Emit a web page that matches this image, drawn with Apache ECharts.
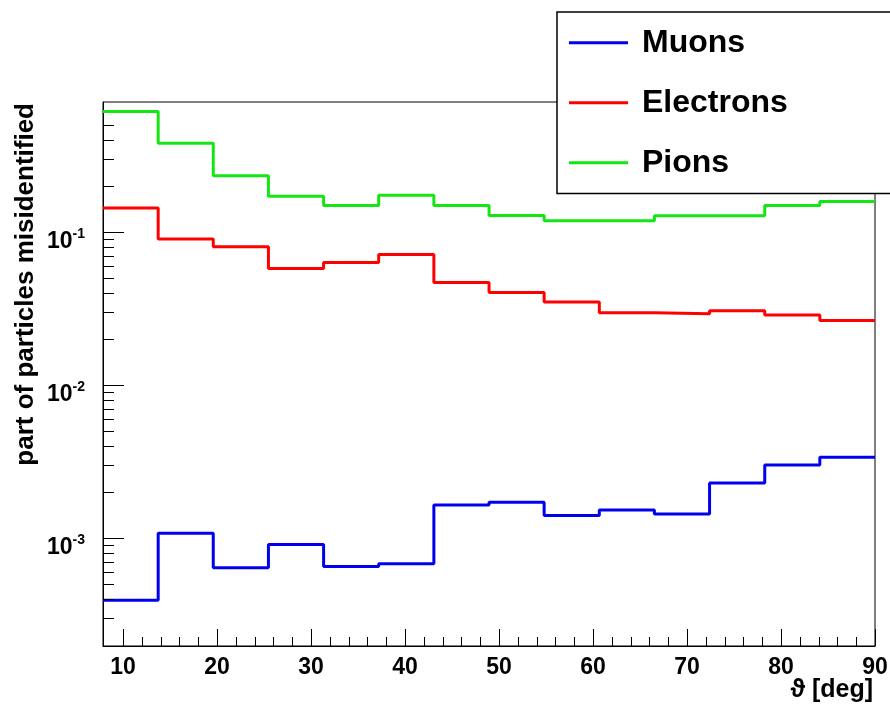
<!DOCTYPE html>
<html>
<head>
<meta charset="utf-8">
<script src="https://cdn.jsdelivr.net/npm/echarts@6/dist/echarts.min.js"></script>
<style>
  html, body { margin: 0; padding: 0; background: #fff; }
  #chart { width: 890px; height: 706px; }
</style>
</head>
<body>
<div id="chart"></div>
<script>
// Histogram bin edges in theta (deg) and per-bin misidentification fractions
const binEdges = [7.87, 13.74, 19.6, 25.47, 31.34, 37.2, 43.07, 48.94, 54.8, 60.67, 66.53, 72.4, 78.27, 84.13, 90];
const muons = [3.91e-4, 1.07e-3, 6.37e-4, 9.05e-4, 6.50e-4, 6.76e-4, 1.64e-3, 1.71e-3, 1.40e-3, 1.52e-3, 1.43e-3, 2.28e-3, 2.99e-3, 3.36e-3];
const electrons = [0.1436, 0.0900, 0.0801, 0.0578, 0.0632, 0.0713, 0.0468, 0.0402, 0.0348, 0.0296, 0.0292, 0.0305, 0.0287, 0.0264];
const pions = [0.614, 0.380, 0.233, 0.171, 0.149, 0.174, 0.149, 0.1284, 0.1186, 0.1186, 0.1279, 0.1279, 0.149, 0.158];
const seriesNames = ['Muons', 'Electrons', 'Pions'];
const seriesColors = ['#0000f0', '#ff0000', '#14e614'];

// Axis ranges and tick positions
const yRange = [1.963e-4, 0.708];
const yMinorTicks = [3e-4, 4e-4, 5e-4, 6e-4, 7e-4, 8e-4, 9e-4,
                     2e-3, 3e-3, 4e-3, 5e-3, 6e-3, 7e-3, 8e-3, 9e-3,
                     2e-2, 3e-2, 4e-2, 5e-2, 6e-2, 7e-2, 8e-2, 9e-2,
                     0.2, 0.3, 0.4, 0.5];
const xMinorTicks = [12, 14, 16, 18, 22, 24, 26, 28, 32, 34, 36, 38, 42, 44, 46, 48,
                     52, 54, 56, 58, 62, 64, 66, 68, 72, 74, 76, 78, 82, 84, 86, 88];

const FONT = '"Liberation Sans", Arial, Helvetica, sans-serif';

// Each histogram is drawn as a step line through the bin edges
function histPoints(values) {
  return binEdges.map((x, i) => [x, values[Math.min(i, values.length - 1)]]);
}

const histSeries = [muons, electrons, pions].map((vals, k) => ({
  name: seriesNames[k],
  type: 'line',
  step: 'end',
  data: histPoints(vals),
  showSymbol: false,
  symbol: 'none',
  color: seriesColors[k],
  lineStyle: { color: seriesColors[k], width: 3 },
  silent: true,
  animation: false,
  z: 2
}));

// Short inside tick marks drawn in data space (log minor ticks at 2..9 × 10^n, x minor ticks every 2°)
const yMinorSeries = {
  type: 'custom',
  silent: true,
  animation: false,
  clip: false,
  z: 4,
  data: yMinorTicks.map(v => [binEdges[0], v]),
  renderItem: (params, api) => {
    const p = api.coord([api.value(0), api.value(1)]);
    const y = Math.round(p[1]) + 0.5;
    return { type: 'line', shape: { x1: p[0], y1: y, x2: p[0] + 11, y2: y },
             style: { stroke: '#000', lineWidth: 1 } };
  }
};
const xMinorSeries = {
  type: 'custom',
  silent: true,
  animation: false,
  clip: false,
  z: 4,
  data: xMinorTicks.map(v => [v, yRange[0]]),
  renderItem: (params, api) => {
    const p = api.coord([api.value(0), api.value(1)]);
    const x = Math.round(p[0]) + 0.5;
    return { type: 'line', shape: { x1: x, y1: p[1], x2: x, y2: p[1] - 9 },
             style: { stroke: '#000', lineWidth: 1 } };
  }
};

const chart = echarts.init(document.getElementById('chart'), null, { renderer: 'canvas' });
chart.setOption({
  animation: false,
  backgroundColor: '#fff',
  grid: {
    left: 103, top: 102, right: 15, bottom: 60,
    containLabel: false,
    outerBoundsMode: 'none',
    show: true, borderColor: '#000', borderWidth: 1, backgroundColor: 'transparent'
  },
  legend: {
    data: seriesNames.map(n => ({ name: n, icon: 'rect' })),
    orient: 'vertical',
    left: 557,
    top: 12,
    padding: [10.7, 140, 10.7, 12],
    itemWidth: 59,
    itemHeight: 3,
    itemGap: 20,
    selectedMode: false,
    backgroundColor: '#fff',
    borderColor: '#000',
    borderWidth: 1.5,
    borderRadius: 0,
    z: 10,
    textStyle: {
      fontFamily: FONT, fontSize: 32, fontWeight: 'bold', color: '#000',
      lineHeight: 30, padding: [10, 0, 0, 9]
    }
  },
  xAxis: {
    type: 'value',
    min: binEdges[0],
    max: binEdges[binEdges.length - 1],
    splitNumber: 8,
    name: 'ϑ [deg]',
    nameLocation: 'end',
    nameGap: 0,
    nameMoveOverlap: false,
    nameTextStyle: {
      fontFamily: FONT, fontSize: 25, fontWeight: 'bold', color: '#000',
      align: 'right', verticalAlign: 'top', lineHeight: 25, padding: [32, 2, 0, 0]
    },
    axisLine: { show: true, onZero: false, lineStyle: { color: '#000', width: 1 } },
    axisTick: { show: true, inside: true, length: 17, lineStyle: { color: '#000', width: 1 } },
    minorTick: { show: false },
    splitLine: { show: false },
    axisLabel: {
      showMinLabel: false,
      fontFamily: FONT, fontSize: 23, fontWeight: 'bold', color: '#000',
      lineHeight: 23, margin: 10
    }
  },
  yAxis: {
    type: 'log',
    logBase: 10,
    min: yRange[0],
    max: yRange[1],
    name: 'part of particles misidentified',
    nameLocation: 'end',
    nameRotate: 90,
    nameGap: 0,
    nameMoveOverlap: false,
    nameTextStyle: {
      fontFamily: FONT, fontSize: 26, fontWeight: 'bold', color: '#000',
      align: 'right', verticalAlign: 'bottom', lineHeight: 26, padding: [0, 1, 64, 0]
    },
    axisLine: { show: true, onZero: false, lineStyle: { color: '#000', width: 1 } },
    axisTick: { show: true, inside: true, length: 21, lineStyle: { color: '#000', width: 1 } },
    minorTick: { show: false },
    splitLine: { show: false },
    axisLabel: {
      showMinLabel: false,
      showMaxLabel: false,
      margin: 18,
      padding: [16, 0, 0, 0],
      formatter: (v) => {
        const lg = Math.log10(v);
        const e = Math.round(lg);
        if (Math.abs(lg - e) > 1e-6) return '';
        return '{b|10}{s|' + e + '}';
      },
      rich: {
        b: { fontFamily: FONT, fontSize: 23, fontWeight: 'bold', color: '#000', lineHeight: 26, verticalAlign: 'bottom' },
        s: { fontFamily: FONT, fontSize: 14, fontWeight: 'bold', color: '#000', lineHeight: 14, verticalAlign: 'top' }
      }
    }
  },
  series: histSeries.concat([yMinorSeries, xMinorSeries])
});
</script>
</body>
</html>
